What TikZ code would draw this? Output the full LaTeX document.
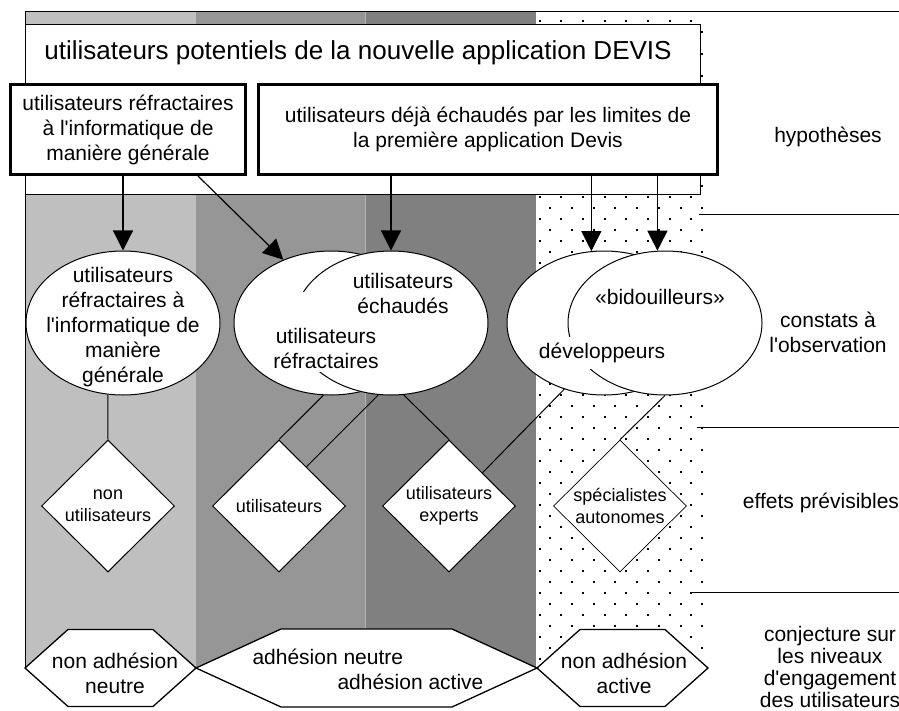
\documentclass[tikz,border=0pt]{standalone}
\usepackage{fontspec}
\setmainfont{Liberation Sans}[Ligatures=TeXOff]
\usetikzlibrary{arrows.meta,shapes.geometric,calc}

\begin{document}
\begin{tikzpicture}[x=1bp,y=-1bp,>={Triangle[length=20bp,width=20bp]},line width=1bp,font=\fontsize{21bp}{25bp}\selectfont]
        \tikzstyle{bulle}=[ellipse, draw, fill=white, minimum width=194bp, minimum height=144bp, inner sep=0pt]
        \tikzstyle{losange}=[diamond, draw, fill=white, aspect=1, minimum width=133bp, minimum height=132bp, inner sep=0pt, align=center, font=\fontsize{18bp}{22bp}\selectfont]
        \tikzstyle{hexa}=[draw, fill=white, line width=1.3bp, line join=miter]
        \tikzstyle{boite}=[draw, line width=3bp, fill=white, minimum height=90bp, align=center]
        \tikzstyle{fleche}=[->, line width=1.2bp]

        \useasboundingbox (0,0) rectangle (899,711);
        \fill[black!25] (25,12) rectangle (196,668);
        \fill[black!41] (196,12) rectangle (365,668);
        \fill[black!50] (365,12) rectangle (536,668);
        \foreach \r in {0,...,58}{
          \pgfmathsetmacro\dx{mod(\r,2)*10.85}
          \foreach \c in {0,...,7}
            \fill ({538.5+\dx+21.7*\c},{20+11*\r}) rectangle ++(2,2);
        }
        \draw[black!30, line width=0.8bp] (365,12) -- (365,668);
        \draw (25,12) -- (899,12);
        \draw (25,12) -- (25,668);
        \draw (699,214) -- (899,214);
        \draw (697,427) -- (899,427);
        \draw (692,592) -- (899,592);

        \node[draw, fill=white, anchor=north west, minimum width=675bp, minimum height=170bp, inner sep=0pt] (cadre) at (25,24) {};
        \node[font=\fontsize{26bp}{30bp}\selectfont] (titre) at (358,53) {utilisateurs potentiels de la nouvelle application DEVIS};
        \node[boite, minimum width=235bp] (B1) at (128,129.5) {utilisateurs réfractaires\\à l'informatique de\\manière générale};
        \node[boite, minimum width=459bp] (B2) at (488,129.5) {utilisateurs déjà échaudés par les limites de\\la première application Devis};

        \node[bulle] (E1) at (123,323) {};
        \node[bulle] (E2a) at (331,323) {};
        \node[bulle] (E2b) at (391,323) {};
        \node[bulle] (E3a) at (604,323) {};
        \node[bulle] (E3b) at (665,323) {};
        \node[align=center] (t1) at (123,327) {utilisateurs\\réfractaires à\\l'informatique de\\manière\\générale};
        \node[align=center, fill=white, inner xsep=2bp, inner ysep=3bp] (t2a) at (326,332) {\rule{0pt}{48bp}utilisateurs\\réfractaires};
        \node[align=center] (t2b) at (403,293) {utilisateurs\\échaudés};
        \node (t3b) at (660,297) {«bidouilleurs»};
        \node[fill=white, inner sep=6bp] (t3a) at (602,353) {développeurs};

        \node[losange] (D1) at (108,506) {non\\utilisateurs};
        \node[losange] (D2) at (279,506) {utilisateurs};
        \node[losange] (D3) at (449,506) {utilisateurs\\experts};
        \node[losange, line width=0.7bp] (D4) at (620,506) {spécialistes\\autonomes};

        \draw[hexa] (25,668) -- (68,629.5) -- (153,629.5) -- (196,668) -- (153,706.5) -- (68,706.5) -- cycle;
        \draw[hexa] (196,668) -- (281,629) -- (452,629) -- (537,668) -- (452,707) -- (281,707) -- cycle;
        \draw[hexa] (537,668) -- (580,629.5) -- (665,629.5) -- (708,668) -- (665,706.5) -- (580,706.5) -- cycle;
        \node[align=center] (H1) at (115,673) {non adhésion\\neutre};
        \node[align=left] (H2) at (368,669) {adhésion neutre\\\hspace*{85bp}adhésion active};
        \node[align=center] (H3) at (624,673) {non adhésion\\active};

        \draw[fleche] (B1.south -| E1.north) -- (E1.north);
        \draw[fleche] ($(B1.south west)!0.794!(B1.south east)$) -- (E2a.127);
        \draw[fleche] (B2.south -| E2b.north) -- (E2b.north);
        \draw[fleche] (B2.south -| E3a.100) -- (E3a.100);
        \draw[fleche] (B2.south -| E3b.96) -- (E3b.96);

        \draw (E1.-102) -- (D1.north);
        \draw (E2a.-96) -- (D2.north);
        \draw (E2b.-100) -- ($(D2.north)!0.41!(D2.east)$);
        \draw (E2b.-80) -- (D3.north);
        \draw (E3a.-121) -- ($(D3.north)!0.5!(D3.east)$);
        \draw (E3b.south) -- (D4.north);

        \node (hyp) at (828,137) {hypothèses};
        \node[align=center] (cons) at (828,332) {constats à\\l'observation};
        \node (eff) at (821,503) {effets prévisibles};
        \node[align=center, font=\fontsize{21bp}{22bp}\selectfont] (conj) at (830,667) {conjecture sur\\les niveaux\\d'engagement\\des utilisateurs};
\end{tikzpicture}
\end{document}
